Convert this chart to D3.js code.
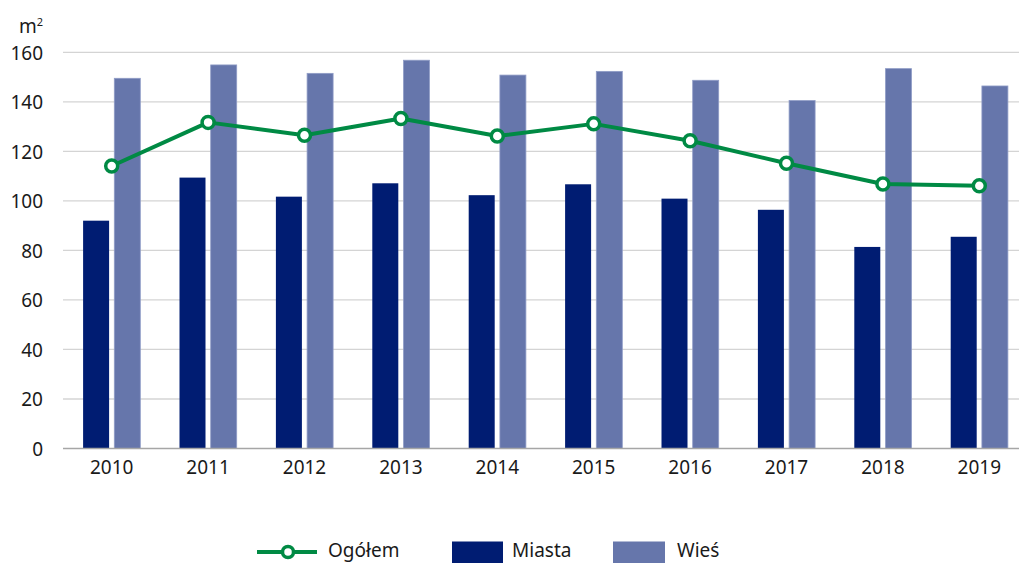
<!DOCTYPE html>
<html><head><meta charset="utf-8">
<script src="https://cdn.jsdelivr.net/npm/d3@7"></script>
<style>
html,body{margin:0;padding:0;background:#fff;}
svg{display:block;}
svg text{font-family:"Noto Sans","Open Sans",sans-serif;}
</style></head>
<body>
<svg id="chart" width="1019" height="563"></svg>
<script>
const years = ["2010","2011","2012","2013","2014","2015","2016","2017","2018","2019"];
const miasta = [92.0,109.4,101.7,107.1,102.3,106.7,100.9,96.4,81.4,85.5];
const wies = [149.5,154.9,151.5,156.8,150.8,152.3,148.7,140.5,153.4,146.4];
const ogolem = [114.1,131.7,126.5,133.3,126.2,131.1,124.3,115.2,106.8,106.1];
const yTicks = [0,20,40,60,80,100,120,140,160];

const FONT = '"Noto Sans","Open Sans",sans-serif';
const FS = "19px";
const svg = d3.select("#chart");
const x = d3.scaleBand().domain(years).range([63.5, 1027.5]);
const y = d3.scaleLinear().domain([0,160]).range([448.5, 52.3]);
const barW = 26, off = 15.6;

// gridlines
svg.append("g").selectAll("line").data(yTicks.filter(d=>d>0)).join("line")
  .attr("x1",63).attr("x2",1019)
  .attr("y1",d=>y(d)).attr("y2",d=>y(d))
  .attr("stroke","#d4d4d4").attr("stroke-width",1.3);

// y axis labels
const yAxis = d3.axisLeft(y).tickValues(yTicks).tickSize(0).tickPadding(0);
const ya = svg.append("g").attr("transform","translate(43,0)").call(yAxis)
  .attr("font-family",FONT).attr("font-size",FS);
ya.select(".domain").remove();
ya.selectAll("text").attr("fill","#1a1a1a").attr("dy","0.36em");

svg.append("text").attr("x",43).attr("y",33).attr("text-anchor","end")
  .attr("font-size",FS).attr("fill","#1a1a1a")
  .html('m<tspan font-size="11px" dy="-7">2</tspan>');

// bars
const cx = d => x(d) + x.bandwidth()/2;
svg.append("g").selectAll("rect").data(years).join("rect")
  .attr("x",(d)=>cx(d)-off-barW/2).attr("width",barW)
  .attr("y",(d,i)=>y(miasta[i])).attr("height",(d,i)=>y(0)-y(miasta[i]))
  .attr("fill","#001c72");
svg.append("g").selectAll("rect").data(years).join("rect")
  .attr("x",(d)=>cx(d)+off-barW/2).attr("width",barW)
  .attr("y",(d,i)=>y(wies[i])).attr("height",(d,i)=>y(0)-y(wies[i]))
  .attr("fill","#6676ab").attr("stroke","#8f9cc6").attr("stroke-width",0.8);

// x axis
const xAxis = d3.axisBottom(x).tickSize(0).tickPadding(12);
const xa = svg.append("g").attr("transform",`translate(0,${y(0)})`).call(xAxis)
  .attr("font-family",FONT).attr("font-size",FS);
xa.select(".domain").attr("stroke","#a6a6a6").attr("stroke-width",1.5).attr("d","M63,0H1019");
xa.selectAll("text").attr("fill","#1a1a1a");

// line
const line = d3.line().x((d,i)=>cx(years[i])).y(d=>y(d));
svg.append("path").datum(ogolem).attr("d",line).attr("fill","none")
  .attr("stroke","#008a44").attr("stroke-width",4).attr("stroke-linejoin","round");
svg.append("g").selectAll("circle").data(ogolem).join("circle")
  .attr("cx",(d,i)=>cx(years[i])).attr("cy",d=>y(d)).attr("r",6)
  .attr("fill","#fff").attr("stroke","#008a44").attr("stroke-width",3.5);

// legend
const lg = svg.append("g");
lg.append("line").attr("x1",257).attr("x2",317).attr("y1",552).attr("y2",552)
  .attr("stroke","#008a44").attr("stroke-width",4);
lg.append("circle").attr("cx",288).attr("cy",552).attr("r",5.5)
  .attr("fill","#fff").attr("stroke","#008a44").attr("stroke-width",3.5);
lg.append("text").attr("x",328).attr("y",557).text("Ogółem");
lg.append("rect").attr("x",452).attr("y",541.5).attr("width",51).attr("height",22).attr("fill","#001c72");
lg.append("text").attr("x",512).attr("y",557).text("Miasta");
lg.append("rect").attr("x",613).attr("y",541.5).attr("width",52).attr("height",22).attr("fill","#6676ab");
lg.append("text").attr("x",677).attr("y",557).text("Wieś");
lg.selectAll("text").attr("font-size",FS).attr("fill","#1a1a1a");
</script>
</body></html>
